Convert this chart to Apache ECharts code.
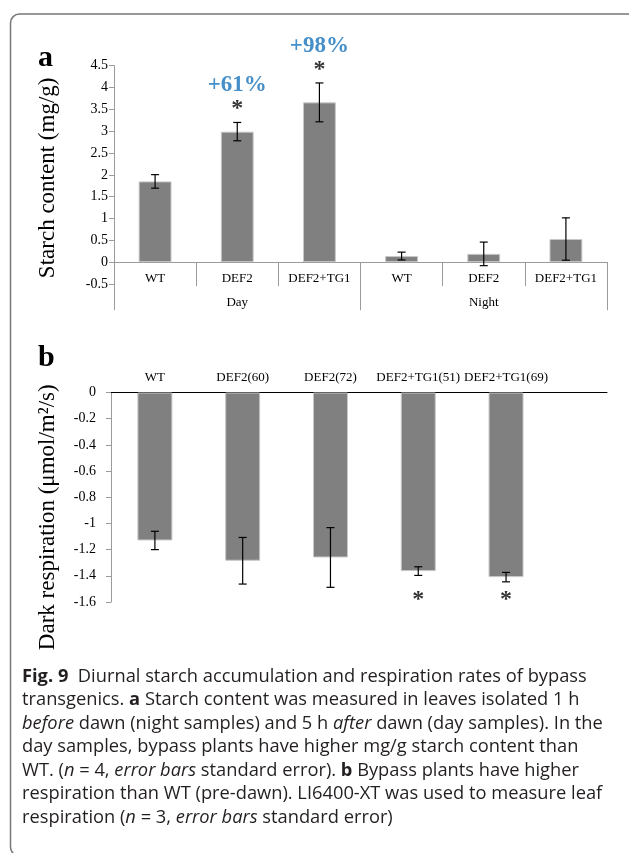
<!DOCTYPE html>
<html>
<head>
<meta charset="utf-8">
<script src="https://cdn.jsdelivr.net/npm/echarts@6/dist/echarts.min.js"></script>
<style>
html,body{margin:0;padding:0;background:#fff;}
#c{width:629px;height:853px;}
</style>
</head>
<body>
<div id="c"></div>
<script>
// ---- Panel a: starch content ----
const starchNames = ['WT', 'DEF2', 'DEF2+TG1', 'WT', 'DEF2', 'DEF2+TG1'];
const starchGroups = ['Day', 'Night'];
const starchMean = [1.85, 2.99, 3.66, 0.14, 0.19, 0.53];
const starchErr = [0.155, 0.21, 0.445, 0.09, 0.27, 0.485];
const starchNote = ['', '+61%', '+98%', '', '', ''];
const starchSig = [false, true, true, false, false, false];
const starchTicks = { min: -0.5, max: 4.5, interval: 0.5 };

// ---- Panel b: dark respiration ----
const respNames = ['WT', 'DEF2(60)', 'DEF2(72)', 'DEF2+TG1(51)', 'DEF2+TG1(69)'];
const respMean = [-1.13, -1.285, -1.26, -1.364, -1.41];
const respErr = [0.07, 0.178, 0.228, 0.033, 0.036];
const respSig = [false, false, false, true, true];
const respSigLevel = -1.46;
const respTicks = { min: -1.6, max: 0, interval: 0.2 };

const captionLines = [
  '{b|Fig. 9}  Diurnal starch accumulation and respiration rates of bypass',
  'transgenics. {b|a} Starch content was measured in leaves isolated 1 h',
  '{i|before} dawn (night samples) and 5 h {i|after} dawn (day samples). In the',
  'day samples, bypass plants have higher mg/g starch content than',
  'WT. ({i|n} = 4, {i|error bars} standard error). {b|b} Bypass plants have higher',
  'respiration than WT (pre-dawn). LI6400-XT was used to measure leaf',
  'respiration ({i|n} = 3, {i|error bars} standard error)'
];

const SERIF = '"Liberation Serif", "Times New Roman", serif';
const SANS = '"Open Sans", "Noto Sans", sans-serif';
const CAP_SIZE = 18.3;
const AXIS_GRAY = '#9a9a9a';
const BAR = '#808080';
const BLUE = '#1873bb';
const ZERO_OFFSET = -21.8; // zero line sits 0.5 units above the bottom of panel a

function errRender(params, api) {
  const x = api.value(0), lo = api.value(1), hi = api.value(2);
  const a = api.coord([x, lo]), b = api.coord([x, hi]);
  const w = 4;
  const st = { stroke: '#000', lineWidth: 1.2 };
  return { type: 'group', children: [
    { type: 'line', shape: { x1: a[0], y1: a[1], x2: b[0], y2: b[1] }, style: st },
    { type: 'line', shape: { x1: a[0] - w, y1: a[1], x2: a[0] + w, y2: a[1] }, style: st },
    { type: 'line', shape: { x1: b[0] - w, y1: b[1], x2: b[0] + w, y2: b[1] }, style: st }
  ]};
}

const starchErrData = starchMean.map((m, i) => [i, m - starchErr[i], m + starchErr[i]]);
const starchSigData = [];
starchMean.forEach((m, i) => { if (starchSig[i]) starchSigData.push({ value: [i, m + starchErr[i]], note: starchNote[i] }); });

const respBarData = respMean.map((m, i) => [i, m]);
const respErrData = respMean.map((m, i) => [i, m - respErr[i], m + respErr[i]]);
const respSigData = [];
respMean.forEach((m, i) => { if (respSig[i]) respSigData.push([i, respSigLevel]); });

const chart = echarts.init(document.getElementById('c'), null, { renderer: 'canvas' });

const option = {
  animation: false,
  backgroundColor: '#fff',
  textStyle: { fontFamily: SERIF },
  grid: [
    { left: 114, top: 65.7, width: 493, height: 218.3, containLabel: false },
    { left: 111, top: 392.5, width: 496, height: 209.5, containLabel: false }
  ],
  xAxis: [
    {
      gridIndex: 0, type: 'category', data: starchNames, boundaryGap: true, position: 'bottom', offset: ZERO_OFFSET,
      axisLine: { onZero: false, lineStyle: { color: AXIS_GRAY, width: 1 } },
      axisTick: { show: true, interval: 0, length: 24, lineStyle: { color: AXIS_GRAY } },
      axisLabel: { interval: 0, margin: 10, color: '#000', fontSize: 13, fontFamily: SERIF },
      splitLine: { show: false }
    },
    {
      gridIndex: 0, type: 'category', data: starchGroups, boundaryGap: true, position: 'bottom', offset: ZERO_OFFSET,
      axisLine: { onZero: false, lineStyle: { color: AXIS_GRAY, width: 1 } },
      axisTick: { show: true, interval: 0, length: 48, lineStyle: { color: AXIS_GRAY } },
      axisLabel: { interval: 0, margin: 34, color: '#000', fontSize: 13, fontFamily: SERIF },
      splitLine: { show: false }
    },
    {
      gridIndex: 1, type: 'value', position: 'top', min: -0.5, max: 5.15,
      axisLine: { show: true, onZero: false, lineStyle: { color: '#000', width: 1 } },
      axisTick: { show: false },
      axisLabel: {
        show: true, customValues: [0, 1, 2, 3, 4], margin: 8, color: '#000', fontSize: 13, fontFamily: SERIF,
        formatter: v => respNames[Math.round(v)] || ''
      },
      splitLine: { show: false }
    }
  ],
  yAxis: [
    {
      gridIndex: 0, type: 'value', min: starchTicks.min, max: starchTicks.max, interval: starchTicks.interval,
      name: 'Starch content (mg/g)', nameLocation: 'middle', nameGap: 55,
      nameTextStyle: { fontSize: 23, fontFamily: SERIF, color: '#000', padding: [0, 6, 0, 0] },
      axisLine: { show: true, onZero: false, lineStyle: { color: AXIS_GRAY } },
      axisTick: { show: true, length: 5, lineStyle: { color: AXIS_GRAY } },
      axisLabel: { margin: 6, color: '#000', fontSize: 14, fontFamily: SERIF },
      splitLine: { show: false }
    },
    {
      gridIndex: 1, type: 'value', min: respTicks.min, max: respTicks.max, interval: respTicks.interval,
      name: 'Dark respiration (μmol/m\u00b2/s)', nameLocation: 'middle', nameGap: 52,
      nameTextStyle: { fontSize: 23, fontFamily: SERIF, color: '#000', padding: [0, 40, 0, 0] },
      axisLine: { show: true, onZero: false, lineStyle: { color: AXIS_GRAY } },
      axisTick: { show: true, length: 5, lineStyle: { color: AXIS_GRAY } },
      axisLabel: { margin: 15, color: '#000', fontSize: 14, fontFamily: SERIF },
      splitLine: { show: false }
    }
  ],
  series: [
    {
      type: 'bar', xAxisIndex: 0, yAxisIndex: 0, data: starchMean, barWidth: '40%',
      itemStyle: { color: BAR, borderColor: '#c8c8c8', borderWidth: 1 }
    },
    {
      type: 'custom', xAxisIndex: 0, yAxisIndex: 0, renderItem: errRender,
      encode: { x: 0, y: [1, 2] }, data: starchErrData, z: 5
    },
    {
      type: 'scatter', xAxisIndex: 0, yAxisIndex: 0, symbol: 'circle', symbolSize: 1,
      itemStyle: { color: 'rgba(0,0,0,0)' }, data: starchSigData, z: 6,
      label: {
        show: true, position: 'top', distance: 2,
        formatter: p => '{p|' + p.data.note + '}\n{s|*}',
        rich: {
          p: { color: BLUE, fontSize: 23, fontWeight: 'bold', fontFamily: SERIF, lineHeight: 25, align: 'center' },
          s: { color: '#000', fontSize: 24, fontWeight: 'bold', fontFamily: SERIF, lineHeight: 22, align: 'center' }
        }
      }
    },
    {
      type: 'bar', xAxisIndex: 2, yAxisIndex: 1, data: respBarData, barWidth: 35,
      itemStyle: { color: BAR, borderColor: '#c8c8c8', borderWidth: 1 }
    },
    {
      type: 'custom', xAxisIndex: 2, yAxisIndex: 1, renderItem: errRender,
      encode: { x: 0, y: [1, 2] }, data: respErrData, z: 5
    },
    {
      type: 'scatter', xAxisIndex: 2, yAxisIndex: 1, symbol: 'circle', symbolSize: 1,
      itemStyle: { color: 'rgba(0,0,0,0)' }, data: respSigData, z: 6,
      label: {
        show: true, position: 'bottom', distance: 4, formatter: '*',
        color: '#000', fontSize: 24, fontWeight: 'bold', fontFamily: SERIF
      }
    }
  ],
  graphic: [
    {
      type: 'rect', shape: { x: 10.5, y: 14, width: 640, height: 842, r: 9 },
      style: { fill: 'none', stroke: '#777', lineWidth: 1.5 }, silent: true
    },
    {
      type: 'text', x: 38, y: 58,
      style: { text: 'a', font: 'bold 30px ' + SERIF, fill: '#000', verticalAlign: 'middle' }
    },
    {
      type: 'text', x: 38, y: 358,
      style: { text: 'b', font: 'bold 30px ' + SERIF, fill: '#000', verticalAlign: 'middle' }
    },
    {
      type: 'text', x: 22, y: 665,
      style: {
        text: captionLines.join('\n'),
        font: CAP_SIZE + 'px ' + SANS, fill: '#231f20', lineHeight: 23.5,
        rich: {
          b: { fontWeight: 'bold', fontSize: CAP_SIZE, fontFamily: SANS, lineHeight: 23.5, fill: '#231f20' },
          i: { fontStyle: 'italic', fontSize: CAP_SIZE, fontFamily: SANS, lineHeight: 23.5, fill: '#231f20' }
        }
      }
    }
  ]
};
chart.setOption(option);
</script>
</body>
</html>
